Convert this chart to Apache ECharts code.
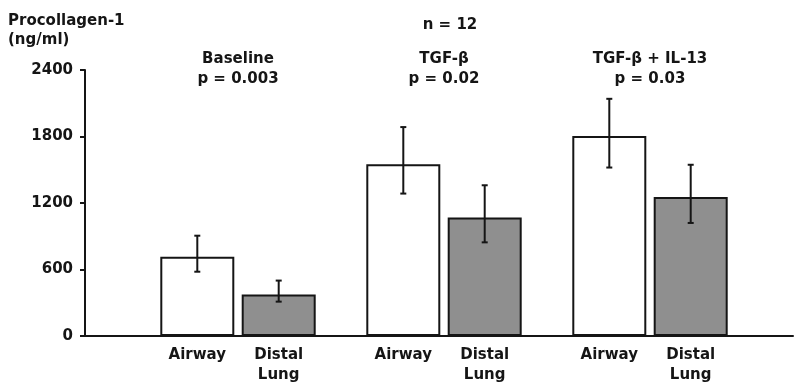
<!DOCTYPE html>
<html>
<head>
<meta charset="utf-8">
<script src="https://cdn.jsdelivr.net/npm/echarts@6/dist/echarts.min.js"></script>
<style>
  html, body { margin: 0; padding: 0; background: #fff; }
  #main { width: 794px; height: 385px; }
</style>
</head>
<body>
<div id="main"></div>
<script>
var groups = ['Baseline', 'TGF-β', 'TGF-β + IL-13'];
var pValues = ['p = 0.003', 'p = 0.02', 'p = 0.03'];
var barNames = ['Airway', 'Distal Lung'];
var barLabels = ['Airway', 'Distal\nLung'];
var airway = [715, 1550, 1805];
var airwayLow = [580, 1285, 1520];
var airwayHigh = [905, 1885, 2140];
var distal = [375, 1070, 1255];
var distalLow = [310, 845, 1020];
var distalHigh = [500, 1360, 1545];
var yTicks = [0, 600, 1200, 1800, 2400];

var chartDom = document.getElementById('main');
var myChart = echarts.init(chartDom);
var option;

var font = 'DejaVu Sans';
var ink = '#151515';
var barW = 74;
var gapRatio = 0.1;

function errSeries(low, high, side) {
    var data = low.map(function (v, i) { return [i, v, high[i]]; });
    return {
        type: 'custom',
        xAxisIndex: 1,
        yAxisIndex: 1,
        z: 5,
        data: data,
        encode: { x: 0, y: [1, 2] },
        renderItem: function (params, api) {
            var lo = api.coord([api.value(0), api.value(1)]);
            var hi = api.coord([api.value(0), api.value(2)]);
            var x = lo[0] + side * barW * (1 + gapRatio) / 2;
            var cap = 3;
            var st = { stroke: ink, lineWidth: 2 };
            return {
                type: 'group',
                children: [
                    { type: 'line', shape: { x1: x, y1: lo[1], x2: x, y2: hi[1] }, style: st },
                    { type: 'line', shape: { x1: x - cap, y1: lo[1], x2: x + cap, y2: lo[1] }, style: st },
                    { type: 'line', shape: { x1: x - cap, y1: hi[1], x2: x + cap, y2: hi[1] }, style: st }
                ]
            };
        }
    };
}

function barSeries(name, values, color, label) {
    return {
        name: name,
        type: 'bar',
        xAxisIndex: 1,
        yAxisIndex: 1,
        data: values,
        barWidth: barW,
        barGap: (gapRatio * 100) + '%',
        itemStyle: { color: color, borderColor: ink, borderWidth: 2 },
        label: {
            show: true,
            position: 'bottom',
            distance: 9,
            formatter: label,
            color: ink,
            fontFamily: font,
            fontWeight: 'bold',
            fontSize: 15,
            lineHeight: 20
        }
    };
}

option = {
    animation: false,
    backgroundColor: '#fff',
    grid: [
        { left: 85, right: 1, top: 70, bottom: 49 },
        { left: 135, right: 41, top: 70, bottom: 49 }
    ],
    xAxis: [
        {
            gridIndex: 0, type: 'value', min: 0, max: 1,
            axisLine: { show: true, lineStyle: { color: ink, width: 2 } },
            axisTick: { show: false }, axisLabel: { show: false }, splitLine: { show: false }
        },
        {
            gridIndex: 1, type: 'category', data: groups,
            axisLine: { show: false }, axisTick: { show: false },
            axisLabel: { show: false }, splitLine: { show: false }
        },
        {
            gridIndex: 1, type: 'category', position: 'top',
            data: groups.map(function (g, i) { return g + '\n' + pValues[i]; }),
            axisLine: { show: false }, axisTick: { show: false }, splitLine: { show: false },
            axisLabel: {
                margin: -19,
                color: ink, fontFamily: font, fontWeight: 'bold', fontSize: 15, lineHeight: 20
            }
        }
    ],
    yAxis: [
        {
            gridIndex: 0, type: 'value', min: yTicks[0], max: yTicks[yTicks.length - 1],
            interval: yTicks[1] - yTicks[0],
            axisLine: { show: true, lineStyle: { color: ink, width: 2 } },
            axisTick: { show: true, length: 5, lineStyle: { color: ink, width: 2 } },
            axisLabel: {
                margin: 12, color: ink, fontFamily: font, fontWeight: 'bold', fontSize: 15,
                formatter: function (v) { return String(v); }
            },
            splitLine: { show: false }
        },
        {
            gridIndex: 1, type: 'value', min: yTicks[0], max: yTicks[yTicks.length - 1],
            show: false, splitLine: { show: false }
        }
    ],
    graphic: [
        {
            type: 'text', x: 8, y: 12,
            style: {
                text: 'Procollagen-1\n(ng/ml)', fill: ink,
                font: 'bold 15px "' + font + '"', lineHeight: 19
            }
        },
        {
            type: 'text', x: 450, y: 25,
            style: {
                text: 'n = 12', fill: ink, align: 'center', verticalAlign: 'middle',
                font: 'bold 15px "' + font + '"'
            }
        }
    ],
    series: [
        barSeries(barNames[0], airway, '#ffffff', barLabels[0]),
        barSeries(barNames[1], distal, '#8f8f8f', barLabels[1]),
        errSeries(airwayLow, airwayHigh, -1),
        errSeries(distalLow, distalHigh, 1)
    ]
};

option && myChart.setOption(option);
</script>
</body>
</html>
